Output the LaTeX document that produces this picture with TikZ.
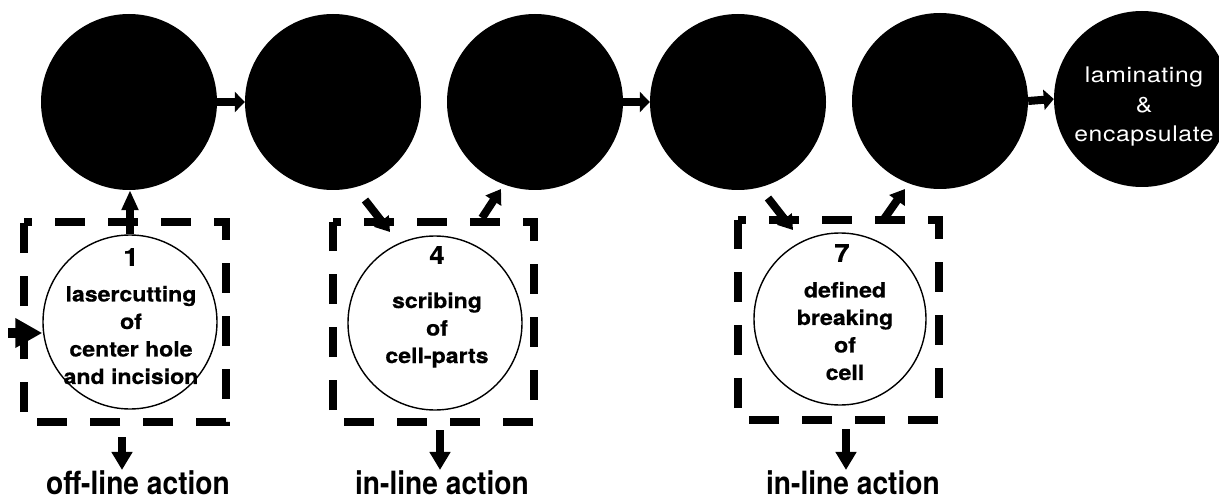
\documentclass[tikz,border=0pt]{standalone}
\usepackage{fontspec}
\setmainfont{TeX Gyre Heros}
\newfontfamily\stepfont{TeX Gyre Heros}[FakeStretch=1.1,FakeBold=0.6]
\newfontfamily\labelfont{TeX Gyre Heros}[FakeStretch=0.88]
\newfontfamily\lamfont{TeX Gyre Heros}[FakeStretch=1.15,LetterSpace=3]
\usetikzlibrary{arrows.meta}

\begin{document}
\begin{tikzpicture}[x=1pt,y=-1pt,
  stage/.style={circle, fill=black, minimum size=176pt, inner sep=0pt},
  task/.style={circle, draw, fill=white, line width=1.4pt, inner sep=0pt},
  frame/.style={minimum height=200pt, inner sep=0pt, outer sep=0pt},
  dashframe/.style={line width=8.5pt, dash pattern=on 30pt off 23pt, dash phase=22pt},
  flow/.style={line width=8pt, -{Triangle[width=20pt,length=10pt]}},
  upflow/.style={line width=8pt, -{Triangle[width=16pt,length=20pt]}},
  feedflow/.style={line width=10pt, -{Triangle[width=28pt,length=27pt]}},
  diag/.style={line width=8pt, -{Triangle[width=18pt,length=14pt]}},
  downflow/.style={line width=8pt, -{Triangle[width=20pt,length=18pt]}},
  number/.style={font=\stepfont\bfseries\fontsize{25}{28}\selectfont, inner sep=0pt},
  body/.style={font=\stepfont\bfseries\fontsize{21}{27.5}\selectfont, align=center, inner sep=0pt},
  action/.style={font=\labelfont\bfseries\fontsize{32}{36}\selectfont, anchor=base, inner sep=0pt}
]
\useasboundingbox (0,0) rectangle (1219,500);

% main line of process stages
\node[stage] (s1) at (129,102) {};
\node[stage] (s2) at (333,102) {};
\node[stage] (s3) at (535,102) {};
\node[stage] (s4) at (738,102) {};
\node[stage] (s5) at (940,101) {};
\node[stage] (s6) at (1142,99) {};
\node[font=\lamfont\fontsize{21.5}{29.5}\selectfont, text=white, align=center, inner sep=0pt]
  (s6t) at (1144,107) {laminating\\\&\\encapsulate};

\draw[flow] (s1.east) -- (s2.west);
\draw[flow] (s3.east) -- (s4.west);
\draw[flow] (s5.east) -- (s6.west);

% dashed frames
\node[frame, minimum width=202pt] (b1) at (125,322) {};
\node[frame, minimum width=201pt] (b2) at (433.5,322) {};
\node[frame, minimum width=201pt] (b3) at (838.5,320) {};
\foreach \b in {b1,b2,b3}
  \draw[dashframe] (\b.north west) -- (\b.north east) -- (\b.south east) -- (\b.south west) -- cycle;

% side operations
\node[task, minimum size=174pt] (w1) at (130,322) {};
\node[task, minimum size=174pt] (w2) at (435,323) {};
\node[task, minimum size=172pt] (w3) at (840,319) {};

\node[number] (n1) at (131,257) {1};
\node[body] (t1) at (131,335) {lasercutting\\of\\center hole\\and incision};
\node[number] (n2) at (437,255) {4};
\node[body] (t2) at (437,330) {scribing\\of\\cell-parts};
\node[number] (n3) at (842,253) {7};
\node[body] (t3) at (845,331) {defined\\breaking\\of\\cell};

% connections between main line and side operations
\draw[upflow] (w1.north) -- (w1.north |- s1.south);
\coordinate (feed) at (8,333);
\draw[feedflow] (feed) -- (w1.west |- feed);

\coordinate (i2a) at (365,200);
\coordinate (i2b) at (390,232);
\coordinate (o2a) at (482,218);
\coordinate (o2b) at (501,189);
\draw[diag] (i2a) -- (i2b);
\draw[diag] (o2a) -- (o2b);

\coordinate (i3a) at (768,198);
\coordinate (i3b) at (793,230);
\coordinate (o3a) at (884,219);
\coordinate (o3b) at (905,189);
\draw[diag] (i3a) -- (i3b);
\draw[diag] (o3a) -- (o3b);

% action type labels
\node[action] (l1) at (138,494) {off-line action};
\node[action] (l2) at (442,494) {in-line action};
\node[action] (l3) at (853,494) {in-line action};

\coordinate (d1) at (122,437);
\coordinate (d2) at (440,430);
\coordinate (d3) at (846,429);
\draw[downflow] (d1) -- (d1 |- l1.north);
\draw[downflow] (d2) -- (d2 |- l2.north);
\draw[downflow] (d3) -- (d3 |- l3.north);
\end{tikzpicture}
\end{document}
